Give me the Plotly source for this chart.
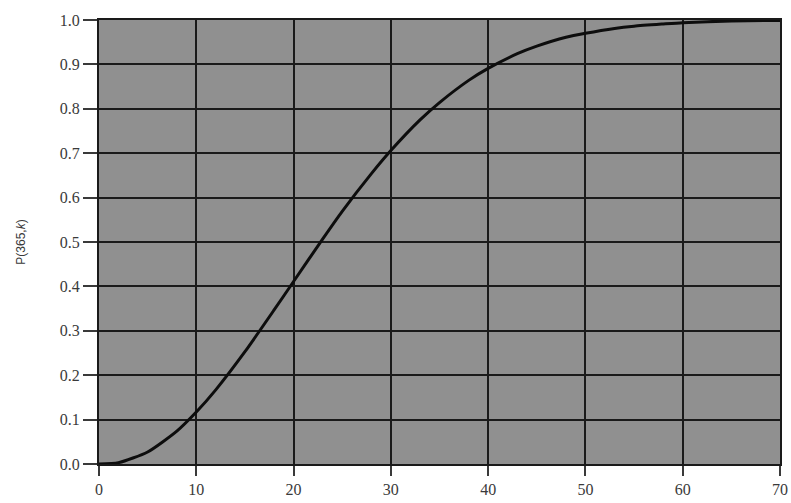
import plotly.graph_objects as go

# Number of people k and probability that at least two share a birthday
k_people = [0, 2, 5, 8, 10, 12, 15, 18, 20, 23, 25, 28, 30, 33, 35, 38, 40, 43, 45, 48, 50, 53, 55, 58, 60, 65, 70]
prob = [0.0, 0.003, 0.027, 0.074, 0.117, 0.167, 0.253, 0.347, 0.411, 0.507, 0.569, 0.654, 0.706, 0.775, 0.814, 0.864,
        0.891, 0.924, 0.941, 0.961, 0.970, 0.981, 0.986, 0.991, 0.994, 0.998, 0.999]

x_ticks = [0, 10, 20, 30, 40, 50, 60, 70]
y_ticks = [0.0, 0.1, 0.2, 0.3, 0.4, 0.5, 0.6, 0.7, 0.8, 0.9, 1.0]

fig = go.Figure()
fig.add_trace(go.Scatter(
    x=k_people, y=prob, mode="lines",
    line=dict(color="#0d0d0d", width=3, shape="spline", smoothing=0.6),
    hoverinfo="skip", showlegend=False,
))

axis_common = dict(
    showgrid=True, gridcolor="#1a1a1a", gridwidth=2,
    showline=True, linecolor="#1a1a1a", linewidth=2, mirror=True,
    ticks="outside", tickwidth=1.5, tickcolor="#3a3a3a",
    zeroline=False, automargin=False,
    tickfont=dict(family="Liberation Serif", size=16, color="#3a3a3a"),
)

fig.update_layout(
    width=791, height=503,
    margin=dict(l=99, r=11, t=20, b=39),
    paper_bgcolor="white",
    plot_bgcolor="#909090",
    xaxis=dict(range=[0, 70], tickvals=x_ticks, ticktext=[str(v) for v in x_ticks], ticklen=10,
               **axis_common),
    yaxis=dict(range=[0, 1.0], tickvals=y_ticks, ticktext=[f"{v:.1f}" for v in y_ticks], ticklen=14,
               title=dict(text="P(365,<i>k</i>)", font=dict(family="Liberation Sans", size=12, color="#3a3a3a"),
                          standoff=32),
               **axis_common),
)

fig.write_html("out.html")
